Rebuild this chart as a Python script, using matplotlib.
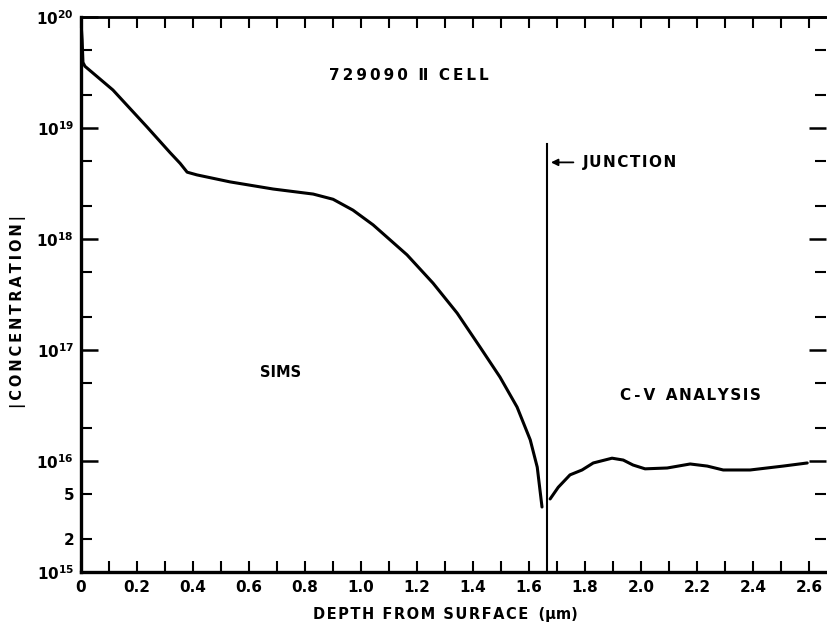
import matplotlib
matplotlib.use("Agg")
import matplotlib.pyplot as plt
from matplotlib.ticker import FixedLocator, FixedFormatter

plt.rcParams['font.family'] = ['DejaVu Sans']
plt.rcParams['font.weight'] = 'bold'
plt.rcParams['mathtext.default'] = 'regular'

# SIMS profile (depth in um, concentration in cm^-3)
sims_depth = [0.0, 0.004, 0.007, 0.014, 0.114, 0.236, 0.318, 0.354, 0.379,
              0.414, 0.532, 0.686, 0.829, 0.900, 0.971, 1.043, 1.164, 1.257, 1.343,
              1.425, 1.496, 1.557, 1.604, 1.629, 1.646]
sims_conc = [9.0e19, 6.2e19, 3.9e19, 3.6e19, 2.2e19, 1.02e19, 6.0e18, 4.8e18, 4.0e18,
             3.78e18, 3.27e18, 2.82e18, 2.54e18, 2.28e18, 1.82e18, 1.34e18, 7.2e17, 4.0e17, 2.15e17,
             1.06e17, 5.7e16, 3.06e16, 1.55e16, 8.8e15, 3.85e15]

# C-V profile
cv_depth = [1.675, 1.704, 1.746, 1.789, 1.829, 1.896, 1.936, 1.971, 2.014, 2.093,
            2.175, 2.236, 2.293, 2.389, 2.507, 2.593]
cv_conc = [4.55e15, 5.8e15, 7.5e15, 8.3e15, 9.6e15, 1.06e16, 1.02e16, 9.2e15, 8.5e15, 8.65e15,
           9.4e15, 9.0e15, 8.3e15, 8.3e15, 9.0e15, 9.6e15]

junction_depth = 1.664
junction_top = 7.2e18

x_major = [0.0, 0.2, 0.4, 0.6, 0.8, 1.0, 1.2, 1.4, 1.6, 1.8, 2.0, 2.2, 2.4, 2.6]
x_labels = ['0', '0.2', '0.4', '0.6', '0.8', '1.0', '1.2', '1.4', '1.6', '1.8',
            '2.0', '2.2', '2.4', '2.6']
x_minor = [0.1, 0.3, 0.5, 0.7, 0.9, 1.1, 1.3, 1.5, 1.7, 1.9, 2.1, 2.3, 2.5]

y_decades = [1e15, 1e16, 1e17, 1e18, 1e19, 1e20]
y_decade_labels = [r'$10^{15}$', r'$10^{16}$', r'$10^{17}$', r'$10^{18}$', r'$10^{19}$', r'$10^{20}$']
y_minor = [2e15, 5e15, 2e16, 5e16, 2e17, 5e17, 2e18, 5e18, 2e19, 5e19]
y_minor_labels = ['2', '5', '', '', '', '', '', '', '', '']


def tracked(s, gap='\u2009'):
    """Widen lettering by putting a narrow space between characters."""
    return gap.join(s)


fig = plt.figure(figsize=(8.27, 6.25), dpi=100)
ax = fig.add_axes([81 / 827, 53 / 625, 745 / 827, 555 / 625])

ax.plot(sims_depth, sims_conc, color='black', lw=2.2, solid_capstyle='round', solid_joinstyle='round')
ax.plot(cv_depth, cv_conc, color='black', lw=2.2, solid_capstyle='round', solid_joinstyle='round')
ax.plot([junction_depth, junction_depth], [junction_top, 1e15], color='black', lw=1.5)

ax.set_yscale('log')
ax.set_xlim(0, 2.66)
ax.set_ylim(1e15, 1e20)

ax.xaxis.set_major_locator(FixedLocator(x_major))
ax.xaxis.set_major_formatter(FixedFormatter(x_labels))
ax.xaxis.set_minor_locator(FixedLocator(x_minor))
ax.yaxis.set_major_locator(FixedLocator(y_decades))
ax.yaxis.set_major_formatter(FixedFormatter(y_decade_labels))
ax.yaxis.set_minor_locator(FixedLocator(y_minor))
ax.yaxis.set_minor_formatter(FixedFormatter(y_minor_labels))

ax.tick_params(axis='x', which='both', direction='in', top=True, bottom=True,
               length=8, width=1.5, labelsize=11, pad=6)
ax.tick_params(axis='y', which='major', direction='in', left=True, right=True,
               length=12, width=1.8, labelsize=11, pad=5)
ax.tick_params(axis='y', which='minor', direction='in', left=True, right=True,
               length=8, width=1.5, labelsize=11, pad=5)

for side in ('left', 'bottom'):
    ax.spines[side].set_linewidth(2.4)
ax.spines['top'].set_linewidth(2.0)
ax.spines['right'].set_visible(False)

# axis titles
fig.text(445 / 827, 1 - 615 / 625, tracked('DEPTH FROM SURFACE', '\u200a') + '  (\u03bcm)',
         ha='center', va='center', fontsize=10.5, fontweight='bold')
fig.text(18 / 827, 1 - 312 / 625, tracked('|CONCENTRATION|'), rotation=90,
         ha='center', va='center', fontsize=10.5, fontweight='bold')

# annotations
ax.text(1.171, 3.0e19, tracked('729090') + '  \u2161  ' + tracked('CELL'),
        ha='center', va='center', fontsize=11, fontweight='bold')
ax.text(1.961, 4.9e18, tracked('JUNCTION', '\u200a'), ha='center', va='center',
        fontsize=11, fontweight='bold')
ax.annotate('', xy=(junction_depth + 0.004, 4.9e18), xytext=(1.768, 4.9e18),
            arrowprops=dict(arrowstyle='-|>', color='black', lw=1.3, mutation_scale=10))
ax.text(0.714, 6.3e16, 'SIMS', ha='center', va='center', fontsize=10.5, fontweight='bold')
ax.text(2.175, 3.9e16, tracked('C-V') + '  ' + tracked('ANALYSIS', '\u200a'),
        ha='center', va='center', fontsize=11, fontweight='bold')

fig.savefig('out.png', dpi=100)
